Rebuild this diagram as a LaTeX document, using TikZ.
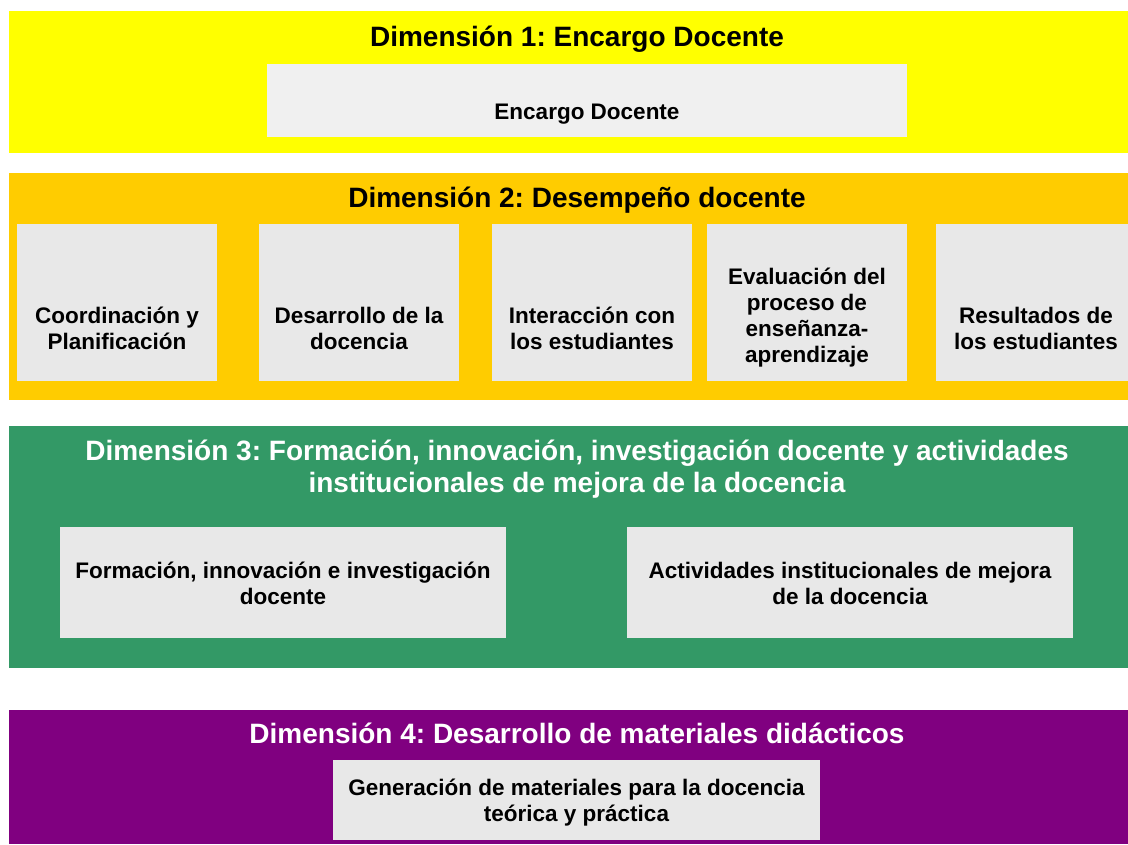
\documentclass[tikz,border=0pt]{standalone}
\usepackage{fontspec}
\setmainfont{Liberation Sans}
\usepackage{tikz}
\frenchspacing

\definecolor{dimyellow}{HTML}{FFFF00}
\definecolor{dimorange}{HTML}{FFCC00}
\definecolor{dimgreen}{HTML}{339966}
\definecolor{dimpurple}{HTML}{800080}
\definecolor{itemgray}{HTML}{E8E8E8}
\definecolor{itemlight}{HTML}{F0F0F0}

\begin{document}
\begin{tikzpicture}[x=1pt, y=-1pt,
    dimtitle/.style={font=\bfseries\fontsize{28}{32}\selectfont, align=center},
    itembox/.style={fill=itemgray, inner sep=0pt},
    itemtext/.style={font=\bfseries\fontsize{22.5}{26}\selectfont, align=center, inner sep=0pt}]
    \useasboundingbox (0,0) rectangle (1128,844);
    % bands
    \fill[dimyellow] (9,11) rectangle (1128,153);
    \fill[dimorange] (9,173) rectangle (1128,400);
    \fill[dimgreen] (9,426) rectangle (1128,668);
    \fill[dimpurple] (9,710) rectangle (1128,844);
    % titles
    \node[dimtitle] (dim1) at (577,39) {Dimensión 1: Encargo Docente};
    \node[dimtitle] (dim2) at (577,200) {Dimensión 2: Desempeño docente};
    \node[dimtitle, white] (dim3) at (577,469) {Dimensión 3: Formación, innovación, investigación docente y actividades\\institucionales de mejora de la docencia};
    \node[dimtitle, white] (dim4) at (577,733) {Dimensión 4: Desarrollo de materiales didácticos};
    % dimension 1
    \node[itembox, fill=itemlight, minimum width=640pt, minimum height=73pt] (encargo) at (587,100.5) {};
    \node[itemtext] (encargotxt) at (587,114) {Encargo Docente};
    % dimension 2
    \node[itembox, minimum width=200pt, minimum height=157pt] (coord) at (117,302.5) {};
    \node[itembox, minimum width=200pt, minimum height=157pt] (desarr) at (359,302.5) {};
    \node[itembox, minimum width=200pt, minimum height=157pt] (inter) at (592,302.5) {};
    \node[itembox, minimum width=200pt, minimum height=157pt] (eval) at (807,302.5) {};
    \node[itembox, minimum width=192pt, minimum height=157pt] (result) at (1032,302.5) {};
    \node[itemtext] (coordtxt) at (117,328) {Coordinación y\\Planificación};
    \node[itemtext] (desarrtxt) at (359,328) {Desarrollo de la\\docencia};
    \node[itemtext] (intertxt) at (592,328) {Interacción con\\los estudiantes};
    \node[itemtext] (evaltxt) at (807,318) {Evaluación del\\proceso de\\enseñanza-\\aprendizaje};
    \node[itemtext] (resulttxt) at (1036,328) {Resultados de\\los estudiantes};
    % dimension 3
    \node[itembox, minimum width=446pt, minimum height=111pt] (formac) at (283,582.5) {};
    \node[itembox, minimum width=446pt, minimum height=111pt] (activ) at (850,582.5) {};
    \node[itemtext] (formactxt) at (283,583) {Formación, innovación e investigación\\docente};
    \node[itemtext] (activtxt) at (850,583) {Actividades institucionales de mejora\\de la docencia};
    % dimension 4
    \node[itembox, minimum width=487pt, minimum height=80pt] (generac) at (576.5,800) {};
    \node[itemtext] (generactxt) at (576.5,802.5) {Generación de materiales para la docencia\\teórica y práctica};
\end{tikzpicture}
\end{document}
